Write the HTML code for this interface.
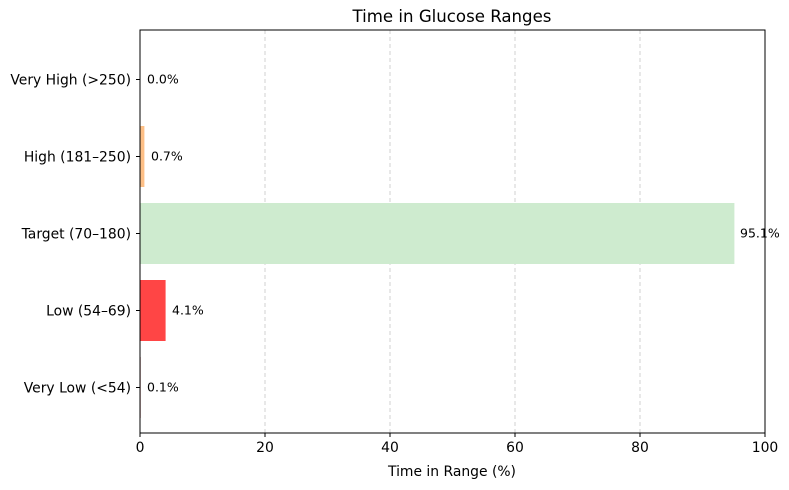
<!DOCTYPE html>
<html><head><style>body{margin:0;background:#fff}svg{display:block}text{font-family:"DejaVu Sans","Liberation Sans",sans-serif;fill:#000}</style></head><body>
<svg width="789" height="490" viewBox="0 0 789 490">
<g stroke="#b0b0b0" stroke-dasharray="4,3" stroke-width="0.8" opacity="0.7">
<line x1="265" y1="30" x2="265" y2="433"/><line x1="390" y1="30" x2="390" y2="433"/><line x1="515" y1="30" x2="515" y2="433"/><line x1="640" y1="30" x2="640" y2="433"/>
</g>
<rect x="140" y="357" width="0.6" height="61" fill="#8b0000"/>
<rect x="140" y="280" width="25.6" height="61" fill="#ff4545"/>
<rect x="140" y="203" width="594.4" height="61" fill="#ceebcf"/>
<rect x="140" y="126" width="4.4" height="61" fill="#fdbf86"/>
<rect x="140" y="30" width="625" height="403" fill="none" stroke="#000" stroke-width="1"/>
<g font-size="12.5">
<text x="147" y="83.5">0.0%</text><text x="151" y="160.5">0.7%</text><text x="740" y="237.5">95.1%</text><text x="172" y="314.5">4.1%</text><text x="147" y="391.5">0.1%</text>
</g>
<g stroke="#000"><line x1="136" y1="79.5" x2="140" y2="79.5"/><line x1="136" y1="156.5" x2="140" y2="156.5"/><line x1="136" y1="233.5" x2="140" y2="233.5"/><line x1="136" y1="310.5" x2="140" y2="310.5"/><line x1="136" y1="387.5" x2="140" y2="387.5"/>
<line x1="140" y1="433" x2="140" y2="437"/><line x1="265" y1="433" x2="265" y2="437"/><line x1="390" y1="433" x2="390" y2="437"/><line x1="515" y1="433" x2="515" y2="437"/><line x1="640" y1="433" x2="640" y2="437"/><line x1="765" y1="433" x2="765" y2="437"/></g>
<g font-size="13.9" text-anchor="end">
<text x="131" y="84.5">Very High (&gt;250)</text><text x="131" y="161.5">High (181–250)</text><text x="131" y="238.5">Target (70–180)</text><text x="131" y="315.5">Low (54–69)</text><text x="131" y="392.5">Very Low (&lt;54)</text>
</g>
<g font-size="13.9" text-anchor="middle">
<text x="140" y="452">0</text><text x="265" y="452">20</text><text x="390" y="452">40</text><text x="515" y="452">60</text><text x="640" y="452">80</text><text x="765" y="452">100</text>
<text x="452" y="476">Time in Range (%)</text>
<text x="452" y="22" font-size="16.6">Time in Glucose Ranges</text>
</g>
</svg>
</body></html>
